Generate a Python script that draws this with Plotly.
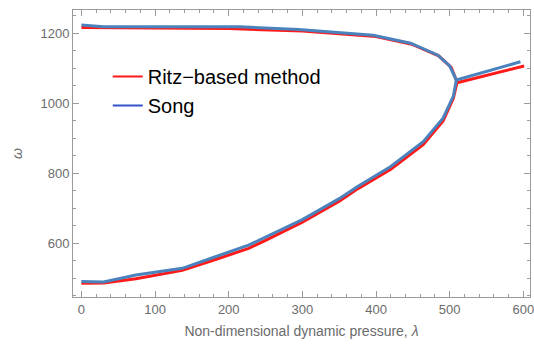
import plotly.graph_objects as go

# Ritz-based method (red)
ritz_upper_x = [0, 100, 200, 300, 400, 450, 485, 502, 510]
ritz_upper_y = [1216, 1215, 1213, 1206, 1190, 1167, 1135, 1102, 1060]
ritz_lower_x = [0, 30, 74, 137, 182, 227, 250, 300, 350, 375, 420, 464, 491, 505, 510]
ritz_lower_y = [485, 486, 498, 522, 553, 585, 608, 660, 720, 755, 811, 881, 949, 1014, 1060]
ritz_right_x = [510, 601]
ritz_right_y = [1058, 1106]

# Song (blue)
song_upper_x = [0, 30, 215, 295, 396, 447, 484, 500, 509]
song_upper_y = [1223, 1218, 1218, 1210, 1194, 1171, 1137, 1106, 1066]
song_lower_x = [0, 30, 74, 137, 182, 227, 300, 350, 375, 420, 464, 491, 505, 509]
song_lower_y = [490, 489, 509, 528, 561, 594, 667, 727, 762, 819, 890, 957, 1020, 1066]
song_right_x = [509, 596]
song_right_y = [1066, 1118]

RED = "#ff1a1a"
BLUE = "#4a82bd"
LEG_BLUE = "#3355cc"

fig = go.Figure()
for xs, ys in [(ritz_upper_x, ritz_upper_y), (ritz_lower_x, ritz_lower_y), (ritz_right_x, ritz_right_y)]:
    fig.add_trace(go.Scatter(x=xs, y=ys, mode="lines", line=dict(color=RED, width=3), showlegend=False))
for xs, ys in [(song_upper_x, song_upper_y), (song_lower_x, song_lower_y), (song_right_x, song_right_y)]:
    fig.add_trace(go.Scatter(x=xs, y=ys, mode="lines", line=dict(color=BLUE, width=3), showlegend=False))

fig.add_trace(go.Scatter(x=[None], y=[None], mode="lines", line=dict(color=RED, width=2), name="Ritz\u2212based method"))
fig.add_trace(go.Scatter(x=[None], y=[None], mode="lines", line=dict(color=LEG_BLUE, width=2), name="Song"))

axis_common = dict(
    showgrid=False, zeroline=False, showline=True, linecolor="#9a9a9a", linewidth=1,
    mirror="ticks", ticks="inside", tickcolor="#9a9a9a", ticklen=6, tickwidth=1,
    tickfont=dict(family="Liberation Sans, Arial", size=13, color="#6b6b6b"),
)
fig.update_xaxes(
    range=[-11.4, 609], tickvals=[0, 100, 200, 300, 400, 500, 600],
    ticklabeloverflow="allow",
    minor=dict(dtick=20, tick0=0, ticks="inside", ticklen=3, tickcolor="#9a9a9a"),
    title=dict(text="Non-dimensional dynamic pressure, <i>λ</i>", font=dict(family="Liberation Sans, Arial", size=14, color="#6b6b6b"), standoff=10),
    **axis_common,
)
fig.update_yaxes(
    range=[446, 1266], tickvals=[600, 800, 1000, 1200],
    minor=dict(dtick=50, tick0=0, ticks="inside", ticklen=3, tickcolor="#9a9a9a"),
    title=dict(text="<i>ω</i>", font=dict(family="Liberation Sans, Arial", size=14, color="#6b6b6b"), standoff=14),
    **axis_common,
)
fig.update_layout(
    width=534, height=349,
    margin=dict(l=73, r=0, t=10, b=52),
    plot_bgcolor="white", paper_bgcolor="white",
    legend=dict(x=0.076, y=0.836, xanchor="left", yanchor="top", bgcolor="rgba(0,0,0,0)",
                font=dict(family="Liberation Sans, Arial", size=20, color="black")),
)
fig.write_html("out.html")
